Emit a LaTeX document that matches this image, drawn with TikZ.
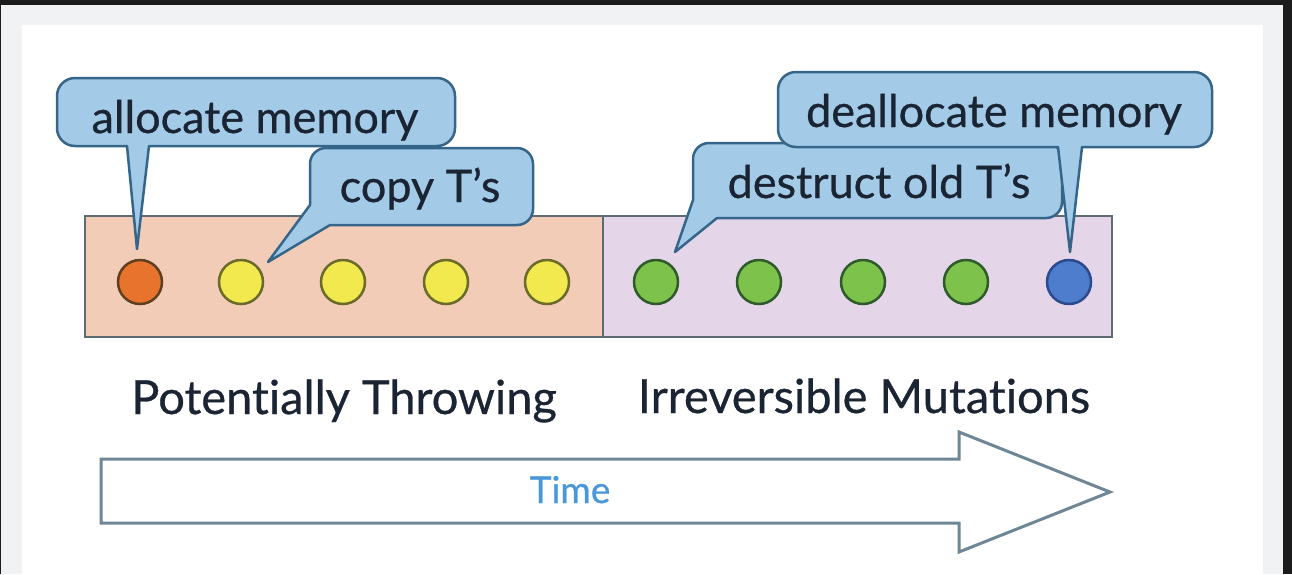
\documentclass[tikz,border=0pt]{standalone}
\usepackage{fontspec}
\setmainfont{Lato}[Ligatures={NoCommon,NoContextual},FakeBold=0.6]
\definecolor{frame}{HTML}{1C1C1C}
\definecolor{band}{HTML}{F1F2F4}
\definecolor{bubfill}{HTML}{A3CBE8}
\definecolor{bubline}{HTML}{35668A}
\definecolor{txt}{HTML}{1A2433}
\definecolor{peach}{HTML}{F3CCB8}
\definecolor{lilac}{HTML}{E5D5E9}
\definecolor{boxline}{HTML}{5F6B73}
\definecolor{arrline}{HTML}{6E8695}
\definecolor{timeblue}{HTML}{4A98DC}
\definecolor{orfill}{HTML}{E8732C}
\definecolor{orline}{HTML}{5E4020}
\definecolor{yefill}{HTML}{F2E94E}
\definecolor{yeline}{HTML}{6A6A2A}
\definecolor{grfill}{HTML}{7DC24B}
\definecolor{grline}{HTML}{2F5A2C}
\definecolor{blfill}{HTML}{4D7DCC}
\definecolor{blline}{HTML}{2C4A8C}
\begin{document}
\begin{tikzpicture}[x=1pt,y=-1pt,
  bubble/.style={fill=bubfill,draw=bubline,line width=2.5pt,line join=round},
  btext/.style={text=txt,font=\fontsize{45}{54}\selectfont,anchor=base,inner sep=0pt},
  ltext/.style={text=txt,font=\fontsize{47}{56}\selectfont,anchor=base,inner sep=0pt},
  phase/.style={line width=2pt,draw=boxline},
  dot/.style={circle,minimum size=44pt,inner sep=0pt,line width=2.5pt},
  ordot/.style={dot,fill=orfill,draw=orline},
  yedot/.style={dot,fill=yefill,draw=yeline},
  grdot/.style={dot,fill=grfill,draw=grline},
  bldot/.style={dot,fill=blfill,draw=blline},
  timearrow/.style={fill=white,draw=arrline,line width=3pt,line join=miter}]
\useasboundingbox (0,0) rectangle (1292,574);
% background frame
\fill[frame] (0,0) rectangle (1292,574);
\fill[band] (1,5) rectangle (1283,574);
\fill[white] (22,25) rectangle (1263,574);
% phase boxes
\draw[phase,fill=peach] (85,216) rectangle (603,337);
\draw[phase,fill=lilac] (603,216) rectangle (1112,337);
% dots
\node[ordot] (c1) at (140,282) {};
\node[yedot] (c2) at (241,282) {};
\node[yedot] (c3) at (343,282) {};
\node[yedot] (c4) at (446,282) {};
\node[yedot] (c5) at (547,282) {};
\node[grdot] (c6) at (656,282) {};
\node[grdot] (c7) at (759,282) {};
\node[grdot] (c8) at (863,282) {};
\node[grdot] (c9) at (966,282) {};
\node[bldot] (c10) at (1069,282) {};
% bubble: allocate memory
\draw[bubble] (75,78) -- (437,78) arc[start angle=-90,end angle=0,radius=18]
  -- (455,128) arc[start angle=0,end angle=90,radius=18]
  -- (149,146) -- (137,249) -- (127,146)
  -- (75,146) arc[start angle=90,end angle=180,radius=18]
  -- (57,96) arc[start angle=180,end angle=270,radius=18] -- cycle;
\node[btext] (talloc) at (255,133) {allocate memory};
% bubble: copy T's
\draw[bubble] (326,148) -- (517,148) arc[start angle=-90,end angle=0,radius=16]
  -- (533,209) arc[start angle=0,end angle=90,radius=16]
  -- (330,225) -- (268,262) -- (310,205)
  -- (310,164) arc[start angle=180,end angle=270,radius=16] -- cycle;
\node[btext] (tcopy) at (420,202) {copy T’s};
% bubble: destruct old T's
\draw[bubble] (709,143) -- (1046,143) arc[start angle=-90,end angle=0,radius=16]
  -- (1062,202) arc[start angle=0,end angle=90,radius=16]
  -- (717,218) -- (675,252) -- (693,200)
  -- (693,159) arc[start angle=180,end angle=270,radius=16] -- cycle;
\node[btext] (tdestr) at (879,198) {destruct old T’s};
% bubble: deallocate memory
\draw[bubble] (796,72) -- (1194,72) arc[start angle=-90,end angle=0,radius=18]
  -- (1212,129) arc[start angle=0,end angle=90,radius=18]
  -- (1082,147) -- (1070,252) -- (1058,147)
  -- (796,147) arc[start angle=90,end angle=180,radius=18]
  -- (778,90) arc[start angle=180,end angle=270,radius=18] -- cycle;
\node[btext] (tdealloc) at (994,127) {deallocate memory};
% phase labels
\node[ltext] (lthrow) at (344,414) {Potentially Throwing};
\node[ltext] (lmut) at (864,413) {Irreversible Mutations};
% time arrow
\draw[timearrow] (101,459) -- (959,459) -- (959,432) -- (1110,492)
  -- (959,552) -- (959,523) -- (101,523) -- cycle;
\node[text=timeblue,font=\fontsize{37}{44}\selectfont,anchor=base,inner sep=0pt] (ttime) at (570,503) {Time};
\end{tikzpicture}
\end{document}
